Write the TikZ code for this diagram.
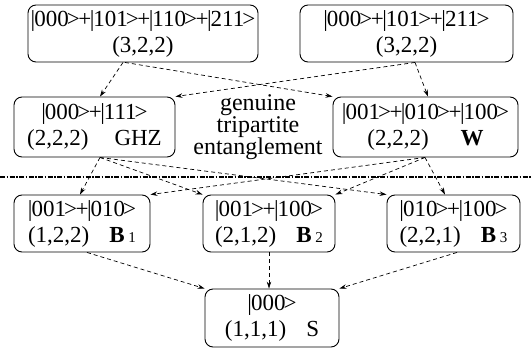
\documentclass[tikz,border=0pt]{standalone}
\usepackage{fontspec}
\setmainfont{Liberation Serif}
\usetikzlibrary{arrows.meta}
\newcommand{\kt}[1]{|\kern-1pt#1\kern-2pt>}
\newcommand{\pl}{\kern-1.5pt+\kern-1.5pt}
\newcommand{\sbd}[1]{\textbf{B}\,{\fontsize{15}{15}\selectfont #1}}
\begin{document}
\begin{tikzpicture}[x=1pt,y=-1pt,
  box/.style={draw,rounded corners=8pt,line width=0.9pt,inner sep=0pt,align=center,
    font=\fontsize{23}{26}\selectfont},
  conn/.style={dash pattern=on 4pt off 3pt,line width=0.7pt,-{Stealth[length=7pt,width=4.5pt]}},
  sep/.style={line width=1.6pt,dash pattern=on 5pt off 1.5pt on 1.5pt off 1.5pt},
  lbl/.style={align=center,font=\fontsize{24}{22}\selectfont,inner sep=0pt}]
\useasboundingbox (0,0) rectangle (531,354);
\node[box,minimum width=230pt,minimum height=57pt] (TL) at (143,33.5) {\kt{000}\pl\kt{101}\pl\kt{110}\pl\kt{211}\\(3,2,2)};
\node[box,minimum width=213pt,minimum height=57pt] (TR) at (406.5,33.5) {\kt{000}\pl\kt{101}\pl\kt{211}\\(3,2,2)};
\node[box,minimum width=161pt,minimum height=60pt] (GHZ) at (94.5,127) {\kt{000}\pl\kt{111}\\(2,2,2)\hspace{26pt}GHZ};
\node[box,minimum width=185pt,minimum height=60pt] (W) at (425.5,127) {\kt{001}\pl\kt{010}\pl\kt{100}\\(2,2,2)\hspace{32pt}\textbf{W}};
\node[lbl] (gte) at (258,127) {genuine\\tripartite\\entanglement};
\node[box,minimum width=136pt,minimum height=57pt] (B1) at (82,223.5) {\kt{001}\pl\kt{010}\\(1,2,2)\hspace{20pt}\sbd{1}};
\node[box,minimum width=132pt,minimum height=57pt] (B2) at (269,223.5) {\kt{001}\pl\kt{100}\\(2,1,2)\hspace{20pt}\sbd{2}};
\node[box,minimum width=133pt,minimum height=57pt] (B3) at (453.5,223.5) {\kt{010}\pl\kt{100}\\(2,2,1)\hspace{20pt}\sbd{3}};
\node[box,minimum width=134pt,minimum height=58pt] (S) at (272,318) {\kt{000}\\(1,1,1)\hspace{20pt}S};
\coordinate (sepL) at (0,177);
\coordinate (sepR) at (531,177);
\draw[sep] (sepL) -- (sepR);
% top row to middle row
\draw[conn] ([xshift=-20pt]TL.south) -- ([xshift=5.5pt]GHZ.north);
\draw[conn] ([xshift=-18pt]TL.south) -- (W.north west);
\draw[conn] ([xshift=8.5pt]TR.south) -- (GHZ.north east);
\draw[conn] ([xshift=8.5pt]TR.south) -- ([xshift=2.5pt]W.north);
% middle row to bottom row
\draw[conn] ([xshift=5.5pt]GHZ.south) -- ([xshift=-2pt]B1.north);
\draw[conn] ([xshift=5.5pt]GHZ.south) -- (B2.north west);
\draw[conn] ([xshift=5.5pt]GHZ.south) -- (B3.north west);
\draw[conn] ([xshift=-0.5pt]W.south) -- (B1.north east);
\draw[conn] ([xshift=-0.5pt]W.south) -- (B2.north east);
\draw[conn] ([xshift=-0.5pt]W.south) -- ([xshift=-8.5pt]B3.north);
% bottom row to S
\draw[conn] ([xshift=5pt]B1.south) -- (S.north west);
\draw[conn] (B2.south) -- (B2.south |- S.north);
\draw[conn] ([xshift=3.5pt]B3.south) -- (S.north east);
\end{tikzpicture}
\end{document}
